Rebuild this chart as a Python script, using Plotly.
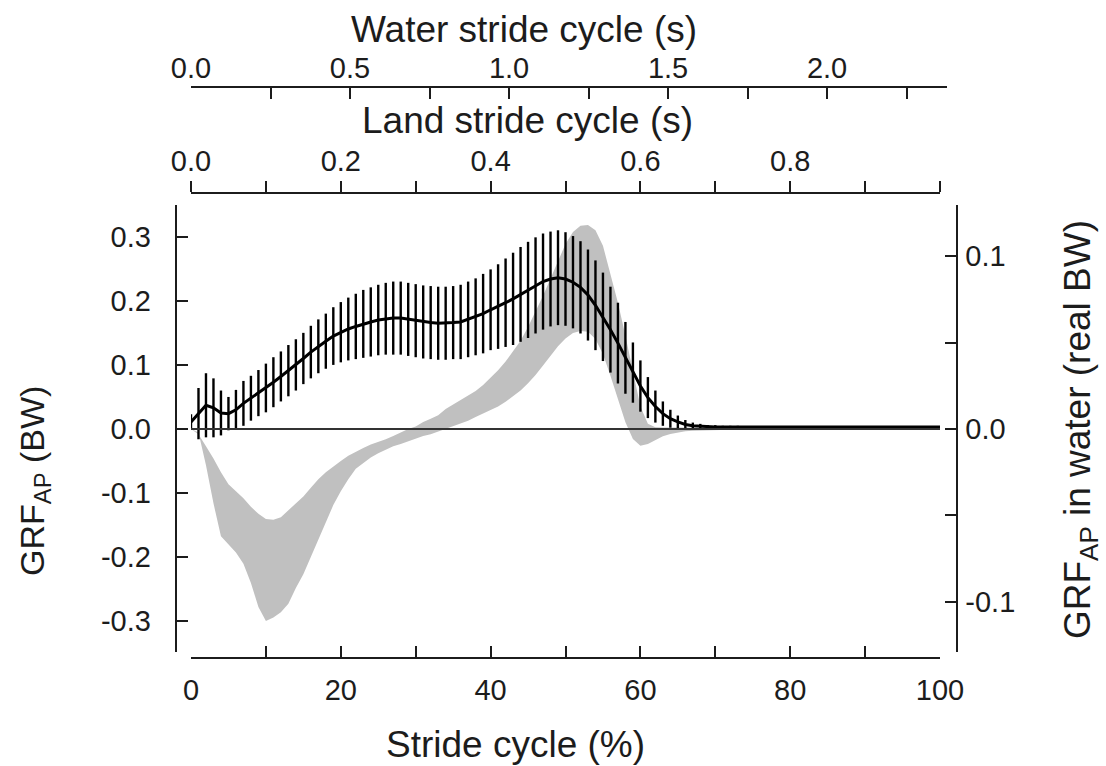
import plotly.graph_objects as go

# ---------------- data ----------------
stride_pct = list(range(0, 101))

# land GRF_AP mean (BW) and SD, every 1 % of the stride
land_mean = [
    0.011, 0.024, 0.037, 0.033, 0.025, 0.024, 0.030, 0.040, 0.048, 0.056,
    0.064, 0.073, 0.082, 0.091, 0.100, 0.110, 0.120, 0.129, 0.137, 0.145,
    0.151, 0.156, 0.160, 0.164, 0.167, 0.170, 0.172, 0.173, 0.173, 0.171,
    0.169, 0.167, 0.166, 0.165, 0.165, 0.166, 0.167, 0.171, 0.175, 0.180,
    0.186, 0.191, 0.197, 0.203, 0.210, 0.217, 0.224, 0.230, 0.234, 0.236,
    0.234, 0.229, 0.221, 0.209, 0.193, 0.175, 0.155, 0.134, 0.111, 0.088,
    0.067, 0.049, 0.035, 0.024, 0.016, 0.011, 0.007, 0.005, 0.004, 0.003,
    0.003, 0.003, 0.003, 0.003, 0.003, 0.003, 0.003, 0.003, 0.003, 0.003,
    0.003, 0.003, 0.003, 0.003, 0.003, 0.003, 0.003, 0.003, 0.003, 0.003,
    0.003, 0.003, 0.003, 0.003, 0.003, 0.003, 0.003, 0.003, 0.003, 0.003,
    0.003,
]
land_sd = [
    0.012, 0.040, 0.050, 0.046, 0.035, 0.026, 0.031, 0.035, 0.035, 0.036,
    0.038, 0.039, 0.039, 0.040, 0.040, 0.040, 0.041, 0.042, 0.043, 0.045,
    0.047, 0.049, 0.051, 0.053, 0.054, 0.055, 0.056, 0.057, 0.057, 0.057,
    0.057, 0.057, 0.057, 0.057, 0.057, 0.057, 0.058, 0.059, 0.060, 0.062,
    0.063, 0.066, 0.069, 0.072, 0.074, 0.075, 0.075, 0.075, 0.074, 0.074,
    0.073, 0.072, 0.072, 0.071, 0.070, 0.069, 0.067, 0.063, 0.056, 0.047,
    0.040, 0.032, 0.025, 0.019, 0.014, 0.010, 0.007, 0.005, 0.004, 0.003,
    0.003, 0.002, 0.002, 0.002, 0.001, 0.001, 0.001, 0.001, 0.001, 0.001,
    0.001, 0.0005, 0.0005, 0.0005, 0.0005, 0.0005, 0.0005, 0.0005, 0.0005, 0.0005,
    0.0005, 0.0005, 0.0005, 0.0005, 0.0005, 0.0005, 0.0005, 0.0005, 0.0005, 0.0005,
    0.0005,
]

# water GRF_AP range (real BW): upper and lower edges of the grey band
water_upper = [
    0.000, -0.003, -0.010, -0.017, -0.025, -0.032, -0.036, -0.040, -0.045, -0.049,
    -0.052, -0.0525, -0.051, -0.047, -0.043, -0.039, -0.034, -0.029, -0.025, -0.0215,
    -0.0185, -0.0155, -0.013, -0.011, -0.009, -0.0077, -0.006, -0.004, -0.002, 0.000,
    0.0015, 0.004, 0.006, 0.008, 0.0115, 0.014, 0.017, 0.0195, 0.022, 0.0255,
    0.0295, 0.034, 0.039, 0.045, 0.051, 0.059, 0.068, 0.077, 0.087, 0.0975,
    0.107, 0.114, 0.1175, 0.118, 0.115, 0.106, 0.090, 0.073, 0.054, 0.033,
    0.013, 0.003, 0.001, 0.0008, 0.0008, 0.0007, 0.0007, 0.0006, 0.0006, 0.0005,
    0.0005, 0.0005, 0.0005, 0.0005, 0.0005, 0.0005, 0.0005, 0.0005, 0.0005, 0.0005,
    0.0005, 0.0005, 0.0005, 0.0005, 0.0005, 0.0005, 0.0005, 0.0005, 0.0005, 0.0005,
    0.0005, 0.0005, 0.0005, 0.0005, 0.0005, 0.0005, 0.0005, 0.0005, 0.0005, 0.0005,
    0.0005,
]
water_lower = [
    0.000, -0.002, -0.021, -0.043, -0.062, -0.067, -0.0715, -0.078, -0.089, -0.103,
    -0.111, -0.109, -0.106, -0.101, -0.092, -0.084, -0.074, -0.064, -0.054, -0.044,
    -0.036, -0.029, -0.023, -0.0195, -0.0165, -0.014, -0.012, -0.010, -0.0087, -0.0072,
    -0.0058, -0.0041, -0.0031, -0.0015, 0.000, 0.0013, 0.003, 0.0048, 0.007, 0.009,
    0.011, 0.013, 0.0158, 0.0189, 0.0222, 0.0264, 0.0312, 0.0367, 0.0424, 0.0479,
    0.0524, 0.0555, 0.0567, 0.0563, 0.0521, 0.0434, 0.0308, 0.0175, 0.0039, -0.0058,
    -0.0097, -0.0087, -0.0062, -0.0042, -0.0029, -0.0020, -0.0013, -0.0010, -0.0008, -0.0006,
    -0.0004, -0.0004, -0.0004, -0.0004, -0.0004, -0.0004, -0.0004, -0.0004, -0.0004, -0.0004,
    -0.0004, -0.0004, -0.0004, -0.0004, -0.0004, -0.0004, -0.0004, -0.0004, -0.0004, -0.0004,
    -0.0004, -0.0004, -0.0004, -0.0004, -0.0004, -0.0004, -0.0004, -0.0004, -0.0004, -0.0004,
    -0.0004,
]

# axis ticks
pct_ticks = [0, 20, 40, 60, 80, 100]
pct_tick_text = ["0", "20", "40", "60", "80", "100"]
pct_minor = [10, 30, 50, 70, 90]
left_ticks = [-0.3, -0.2, -0.1, 0.0, 0.1, 0.2, 0.3]
left_tick_text = ["-0.3", "-0.2", "-0.1", "0.0", "0.1", "0.2", "0.3"]
right_ticks = [-0.1, 0.0, 0.1]
right_tick_text = ["-0.1", "0.0", "0.1"]
right_minor = [-0.05, 0.05]
land_ticks = [0.0, 0.2, 0.4, 0.6, 0.8]
land_tick_text = ["0.0", "0.2", "0.4", "0.6", "0.8"]
land_minor = [0.1, 0.3, 0.5, 0.7, 0.9, 1.0]
water_ticks = [0.0, 0.5, 1.0, 1.5, 2.0]
water_tick_text = ["0.0", "0.5", "1.0", "1.5", "2.0"]
water_minor = [0.25, 0.75, 1.25, 1.75, 2.25]

LAND_STRIDE_S = 1.0      # land stride duration = 100 %
WATER_STRIDE_S = 2.355   # water stride duration = 100 %
WATER_AXIS_END = 2.377   # where the water axis line stops

# ---------------- layout geometry (pixels) ----------------
W, H = 1106, 766
X0, X1 = 191, 940          # 0 % and 100 %
YT, YB = 205, 652          # vertical extent of y axes
ZERO_PY = 429
LEFT_PX_PER_UNIT = 641.0
RIGHT_PX_PER_UNIT = 1729.0
LEFT_AX_PX, RIGHT_AX_PX = 175.7, 956.5
BOTTOM_AX_PY, LAND_AX_PY, WATER_AX_PY = 658, 193, 87


def fx(px):
    return px / W


def fy(py):
    return 1 - py / H


left_range = [-(YB - ZERO_PY) / LEFT_PX_PER_UNIT, (ZERO_PY - YT) / LEFT_PX_PER_UNIT]
right_range = [-(YB - ZERO_PY) / RIGHT_PX_PER_UNIT, (ZERO_PY - YT) / RIGHT_PX_PER_UNIT]
water_dom_end = X0 + (X1 - X0) * WATER_AXIS_END / WATER_STRIDE_S

FONT = "Liberation Sans, Arial, Helvetica, sans-serif"
INK = "#1c1c1c"
BAND = "#c0c0c0"
TICK_SIZE = 29
TITLE_SIZE = 37

fig = go.Figure()

# grey band (water), on the right-hand axis (base y axis)
fig.add_trace(go.Scatter(x=stride_pct, y=water_lower, xaxis="x", yaxis="y",
                         mode="lines", line=dict(width=0, color=BAND),
                         showlegend=False, hoverinfo="skip"))
fig.add_trace(go.Scatter(x=stride_pct, y=water_upper, xaxis="x", yaxis="y",
                         mode="lines", line=dict(width=0, color=BAND),
                         fill="tonexty", fillcolor=BAND,
                         showlegend=False, hoverinfo="skip"))

# land mean +/- SD, on the left axis (overlay y2, drawn on top)
fig.add_trace(go.Scatter(x=stride_pct, y=land_mean, xaxis="x", yaxis="y2",
                         mode="lines", line=dict(color="black", width=3),
                         error_y=dict(type="data", array=land_sd, visible=True,
                                      width=0, thickness=2.4, color="black"),
                         showlegend=False))

# invisible anchors so the time axes are drawn
fig.add_trace(go.Scatter(x=[0, LAND_STRIDE_S], y=[0, 0], xaxis="x3", yaxis="y",
                         mode="markers", marker=dict(opacity=0), showlegend=False,
                         hoverinfo="skip"))
fig.add_trace(go.Scatter(x=[0, WATER_STRIDE_S], y=[0, 0], xaxis="x2", yaxis="y",
                         mode="markers", marker=dict(opacity=0), showlegend=False,
                         hoverinfo="skip"))

axis_common = dict(showgrid=False, zeroline=False, showline=True, linecolor=INK,
                   linewidth=2, tickcolor=INK, tickwidth=2, ticklen=11,
                   tickfont=dict(family=FONT, size=TICK_SIZE, color=INK),
                   tickmode="array", fixedrange=True, automargin=False)

fig.update_layout(
    template="none",
    width=W, height=H,
    margin=dict(l=0, r=0, t=0, b=0, autoexpand=False),
    paper_bgcolor="white", plot_bgcolor="rgba(0,0,0,0)",
    font=dict(family=FONT, color=INK),
    showlegend=False,
    xaxis=dict(axis_common, domain=[fx(X0), fx(X1)], range=[0, 100],
               anchor="free", position=fy(BOTTOM_AX_PY), side="bottom",
               ticks="inside", tickvals=pct_ticks, ticktext=pct_tick_text,
               ticklabelstandoff=6,
               minor=dict(tickvals=pct_minor, ticks="inside", ticklen=11,
                          tickwidth=2, tickcolor=INK)),
    xaxis3=dict(axis_common, overlaying="x", range=[0, LAND_STRIDE_S],
                anchor="free", position=fy(LAND_AX_PY), side="top",
                ticks="outside", tickvals=land_ticks, ticktext=land_tick_text,
                ticklabelstandoff=-2,
                minor=dict(tickvals=land_minor, ticks="outside", ticklen=11,
                           tickwidth=2, tickcolor=INK)),
    xaxis2=dict(axis_common, domain=[fx(X0), fx(water_dom_end)],
                range=[0, WATER_AXIS_END],
                anchor="free", position=fy(WATER_AX_PY), side="top",
                ticks="inside", tickvals=water_ticks, ticktext=water_tick_text,
                ticklabelstandoff=-4,
                minor=dict(tickvals=water_minor, ticks="inside", ticklen=11,
                           tickwidth=2, tickcolor=INK)),
    yaxis=dict(axis_common, domain=[fy(YB), fy(YT)], range=right_range,
               anchor="free", position=fx(RIGHT_AX_PX), side="right",
               ticks="inside", tickvals=right_ticks, ticktext=right_tick_text,
               ticklabelstandoff=2,
               minor=dict(tickvals=right_minor, ticks="inside", ticklen=11,
                          tickwidth=2, tickcolor=INK)),
    yaxis2=dict(axis_common, overlaying="y", range=left_range,
                anchor="free", position=fx(LEFT_AX_PX), side="left",
                ticks="inside", tickvals=left_ticks, ticktext=left_tick_text,
                ticklabelstandoff=18),
)

# zero reference line across the stride
fig.add_shape(type="line", xref="x", yref="y2", x0=stride_pct[0], x1=stride_pct[-1],
              y0=0, y1=0, line=dict(color="#333333", width=2), layer="above")

title_font = dict(family=FONT, size=TITLE_SIZE, color=INK)
fig.add_annotation(text="Water stride cycle (s)", xref="paper", yref="paper",
                   x=fx(524), y=fy(30), xanchor="center", yanchor="middle",
                   showarrow=False, font=title_font)
fig.add_annotation(text="Land stride cycle (s)", xref="paper", yref="paper",
                   x=fx(527), y=fy(121), xanchor="center", yanchor="middle",
                   showarrow=False, font=title_font)
fig.add_annotation(text="Stride cycle (%)", xref="paper", yref="paper",
                   x=fx(515), y=fy(744), xanchor="center", yanchor="middle",
                   showarrow=False, font=title_font)
fig.add_annotation(text="GRF<sub>AP</sub> (BW)", xref="paper", yref="paper",
                   x=fx(34), y=fy(481), xanchor="center", yanchor="middle",
                   textangle=-90, showarrow=False,
                   font=dict(family=FONT, size=34, color=INK))
fig.add_annotation(text="GRF<sub>AP</sub> in water (real BW)", xref="paper", yref="paper",
                   x=fx(1080), y=fy(430), xanchor="center", yanchor="middle",
                   textangle=-90, showarrow=False,
                   font=dict(family=FONT, size=37, color=INK))

fig.write_html("out.html", config={"displayModeBar": False})
